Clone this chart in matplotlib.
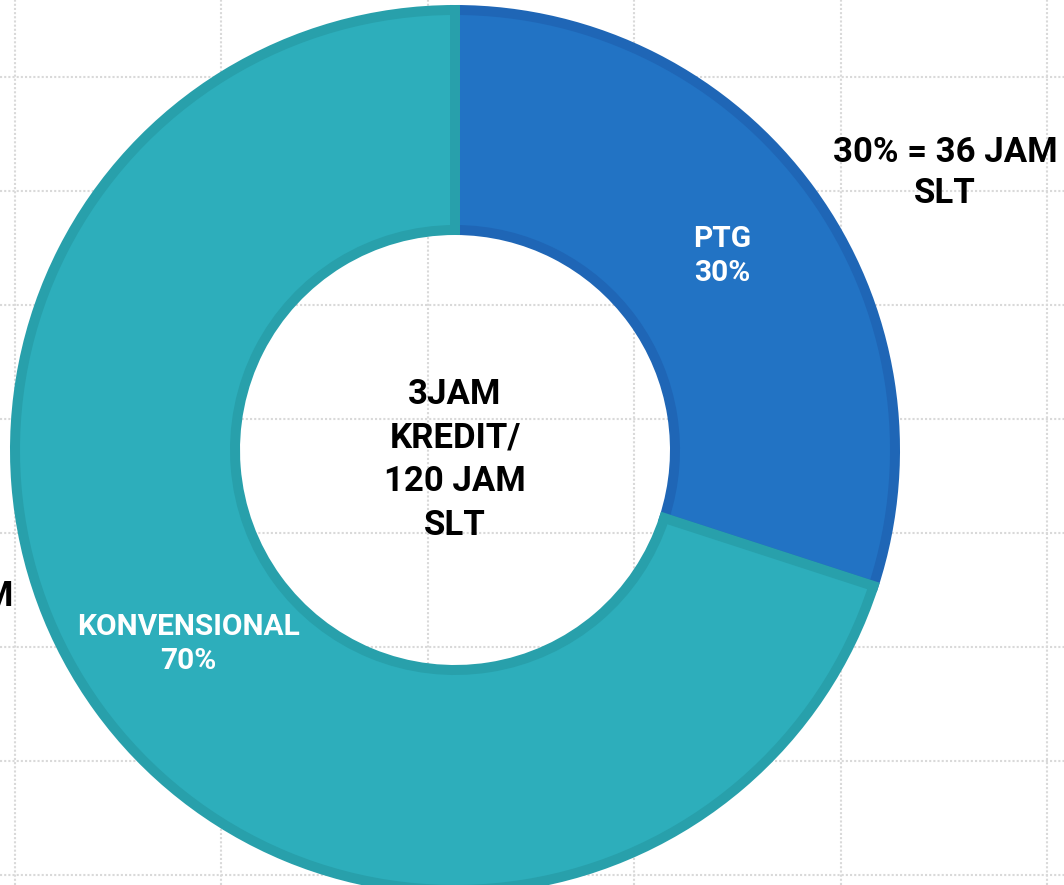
import matplotlib
matplotlib.use("Agg")
import matplotlib.pyplot as plt
import numpy as np

# chart data
categories = ["PTG", "KONVENSIONAL"]
shares = [30, 70]
total_hours = 120
center_title = "3JAM\nKREDIT/\n120 JAM\nSLT"

fill_colors = ["#2273c4", "#2daebb"]
edge_colors = ["#1f66b6", "#28a0ab"]

plt.rcParams["font.family"] = ["Roboto", "DejaVu Sans"]
plt.rcParams["font.weight"] = "bold"

fig = plt.figure(figsize=(10.64, 8.85), dpi=100)
ax = fig.add_axes([0, 0, 1, 1])

# pixel-like data space so the donut sits where it does in the crop
cx, cy, radius = 455, 435, 440

labels_iter = iter(categories)


def _fmt(pct):
    return f"{next(labels_iter)}\n{pct:.0f}%"


wedges, _, autotexts = ax.pie(
    shares,
    colors=fill_colors,
    startangle=90,
    counterclock=False,
    center=(cx, cy),
    radius=radius,
    autopct=_fmt,
    pctdistance=0.75,
    frame=True,
    wedgeprops=dict(width=radius * 0.5, linewidth=7.2),
    textprops=dict(color="white", fontsize=21.5, fontweight="bold", linespacing=1.28),
)
for w, ec in zip(wedges, edge_colors):
    w.set_edgecolor(ec)
    w.set_clip_path(w)  # inner stroke only

ax.text(cx, cy - 10, center_title, ha="center", va="center", fontsize=25,
        fontweight="bold", color="black", linespacing=1.42)

# outer callouts
for share, x, y, ha in [(shares[0], 945, 712, "center"), (shares[1], 13, 305, "right")]:
    hours = round(total_hours * share / 100)
    ax.text(x, y, f"{share}% = {hours} JAM\nSLT", ha=ha, va="top" if ha == "right" else "center",
            multialignment="center", fontsize=25, fontweight="bold", color="black",
            linespacing=1.32)

ax.set_xlim(0, 1064)
ax.set_ylim(0, 885)
ax.set_aspect("equal")
ax.set_xticks(np.arange(15, 1064, 206.4))
ax.set_yticks(np.arange(10, 885, 114))
ax.tick_params(length=0, labelbottom=False, labelleft=False)
ax.grid(True, color="#d9d9d9", linestyle=(0, (1, 1)), linewidth=1.5)
ax.set_axisbelow(True)
for s in ax.spines.values():
    s.set_visible(False)

fig.savefig("out.png", dpi=100)
